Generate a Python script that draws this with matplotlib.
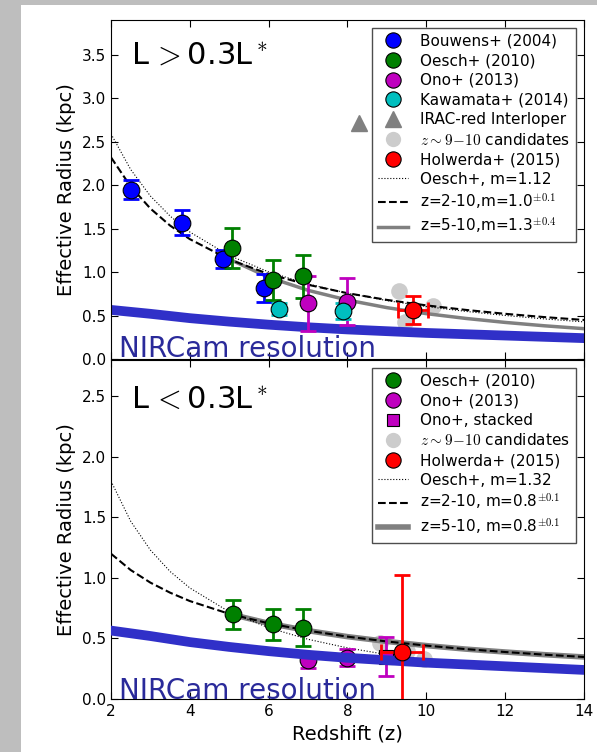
import numpy as np
import matplotlib.pyplot as plt
from matplotlib.lines import Line2D
from matplotlib.patches import Rectangle

plt.rcParams['mathtext.fontset'] = 'cm'
plt.rcParams['font.family'] = 'DejaVu Sans'
plt.rcParams['xtick.direction'] = 'in'
plt.rcParams['ytick.direction'] = 'in'
plt.rcParams['xtick.top'] = True
plt.rcParams['ytick.right'] = True
plt.rcParams['xtick.major.size'] = 5
plt.rcParams['ytick.major.size'] = 5

# ---- upper panel: L > 0.3 L* ----
bou_z = [2.5, 3.8, 4.85, 5.88]
bou_r = [1.95, 1.57, 1.15, 0.82]
bou_e = [0.11, 0.14, 0.10, 0.16]

oes_z = [5.06, 6.1, 6.88]
oes_r = [1.28, 0.91, 0.95]
oes_e = [0.23, 0.23, 0.25]

ono_z = [6.99, 7.98]
ono_r = [0.64, 0.66]
ono_e = [0.32, 0.27]

kaw_z = [6.27, 7.88]
kaw_r = [0.58, 0.55]
kaw_e = [0.07, 0.09]

irac_z = [8.3]
irac_r = [2.71]

cand_z = [9.3, 9.46, 10.18]
cand_r = [0.78, 0.43, 0.61]

hol_z = [9.66]
hol_r = [0.56]
hol_ze = [0.37]
hol_e = [0.16]

fit_z = [2, 2.5, 3, 3.5, 4, 5, 6, 7, 8, 9, 10, 11, 12, 13, 14]
oesch_fit = [2.59, 2.18, 1.875, 1.644, 1.461, 1.191, 1.002, 0.863, 0.757,
             0.672, 0.604, 0.548, 0.501, 0.461, 0.427]
fit_210 = [2.32, 1.984, 1.731, 1.535, 1.379, 1.145, 0.978, 0.854, 0.757,
           0.680, 0.617, 0.565, 0.520, 0.482, 0.449]
fit5_z = [5, 6, 7, 8, 9, 10, 11, 12, 13, 14]
fit_510 = [1.149, 0.940, 0.790, 0.678, 0.591, 0.522, 0.467, 0.421, 0.382, 0.349]

nirc_z = [2, 3, 4, 5, 6, 7, 8, 9, 10, 11, 12, 13, 14]
nirc_r = [0.565, 0.52, 0.47, 0.43, 0.395, 0.365, 0.34, 0.32, 0.30,
          0.285, 0.27, 0.255, 0.24]

# ---- lower panel: L < 0.3 L* ----
oes2_z = [5.09, 6.1, 6.88]
oes2_r = [0.70, 0.617, 0.59]
oes2_e = [0.12, 0.13, 0.15]

ono2_z = [6.99, 7.98]
ono2_r = [0.32, 0.34]
ono2_e = [0.06, 0.07]

stack_z = [8.98]
stack_r = [0.35]
stack_e = [0.16]

cand2_z = [8.83, 9.93, 9.5]
cand2_r = [0.46, 0.33, 0.40]

hol2_z = [9.39]
hol2_r = [0.39]
hol2_ze = [0.53]
hol2_e = [0.63]

oesch2_fit = [1.80, 1.468, 1.230, 1.053, 0.917, 0.720, 0.588, 0.493, 0.422,
              0.367, 0.324, 0.289, 0.260, 0.235, 0.215]
fit2_210 = [1.20, 1.065, 0.961, 0.878, 0.809, 0.703, 0.625, 0.564, 0.515,
            0.475, 0.441, 0.412, 0.388, 0.366, 0.347]
fit2_510 = [0.703, 0.625, 0.564, 0.515, 0.475, 0.441, 0.412, 0.388, 0.366, 0.347]

fig = plt.figure(figsize=(5.97, 7.52), dpi=100, facecolor='#bebebe')
fig.patches.append(Rectangle((21 / 597, 0), 1, 1 - 5 / 752, transform=fig.transFigure,
                             facecolor='white', edgecolor='none', zorder=-10))

ax1 = fig.add_axes([0.1859, 0.5226, 0.7923, 0.4508])
ax2 = fig.add_axes([0.1859, 0.0705, 0.7923, 0.4508], sharex=ax1)

ms = 12
ekw = dict(fmt='none', elinewidth=2, capsize=6, capthick=2)
mkw = dict(ls='none', marker='o', ms=ms, mec='k', mew=0.8)
lkw = dict(ls='none', marker='o', ms=11, mec='k', mew=0.8)
nircol = '#3030c8'

# upper panel
ax1.plot(nirc_z, nirc_r, '-', color=nircol, lw=7, zorder=2)
ax1.plot(fit5_z, fit_510, '-', color='0.5', lw=2.5, zorder=3)
ax1.plot(fit_z, fit_210, '--', color='k', lw=1.5, zorder=3)
ax1.plot(fit_z, oesch_fit, ':', color='k', lw=0.8, zorder=3)
ax1.plot(cand_z, cand_r, ls='none', marker='o', ms=ms, color='#cccccc', mec='none', zorder=1)
ax1.plot(irac_z, irac_r, ls='none', marker='^', ms=ms, color='0.5', mec='0.5', zorder=4)
for z, r, e, c in [(bou_z, bou_r, bou_e, 'b'), (oes_z, oes_r, oes_e, 'g'),
                   (ono_z, ono_r, ono_e, 'm'), (kaw_z, kaw_r, kaw_e, 'c')]:
    ax1.errorbar(z, r, yerr=e, ecolor=c, zorder=4, **ekw)
    ax1.plot(z, r, color=c, zorder=5, **mkw)
ax1.errorbar(hol_z, hol_r, xerr=hol_ze, yerr=hol_e, ecolor='r', zorder=4, **ekw)
ax1.plot(hol_z, hol_r, color='r', zorder=5, **mkw)

ax1.text(2.5, 3.39, r'L$\,>$0.3L$^*$', fontsize=22)
ax1.text(2.2, 0.02, 'NIRCam resolution', fontsize=20, color='#2a2a9a', zorder=6)
ax1.set_ylim(0, 3.9)
ax1.set_yticks([0.0, 0.5, 1.0, 1.5, 2.0, 2.5, 3.0, 3.5])
ax1.set_ylabel('Effective Radius (kpc)', fontsize=14)
ax1.tick_params(labelbottom=False, labelsize=11)

h1 = [Line2D([], [], color='b', **lkw), Line2D([], [], color='g', **lkw),
      Line2D([], [], color='m', **lkw), Line2D([], [], color='c', **lkw),
      Line2D([], [], ls='none', marker='^', ms=11, color='0.5', mec='0.5'),
      Line2D([], [], ls='none', marker='o', ms=11, color='#cccccc', mec='none'),
      Line2D([], [], color='r', **lkw),
      Line2D([], [], ls=':', color='k', lw=0.8),
      Line2D([], [], ls='--', color='k', lw=1.5),
      Line2D([], [], ls='-', color='0.5', lw=2.5)]
l1 = ['Bouwens+ (2004)', 'Oesch+ (2010)', 'Ono+ (2013)', 'Kawamata+ (2014)',
      'IRAC-red Interloper', r'$z\sim9\!-\!10$ candidates', 'Holwerda+ (2015)',
      'Oesch+, m=1.12', r'z=2-10,m=1.0$^{\pm0.1}$', r'z=5-10,m=1.3$^{\pm0.4}$']
leg = ax1.legend(h1, l1, loc='upper right', fontsize=11, numpoints=1,
                 labelspacing=0.3, fancybox=False, framealpha=1,
                 edgecolor='0.3', borderaxespad=0.5, handletextpad=0.8)
leg.get_frame().set_linewidth(1)

# lower panel
ax2.plot(cand2_z, cand2_r, ls='none', marker='o', ms=ms, color='#cccccc', mec='none', zorder=1)
ax2.plot(fit5_z, fit2_510, '-', color='0.5', lw=4, zorder=2)
ax2.plot(fit_z, fit2_210, '--', color='k', lw=1.5, zorder=3)
ax2.plot(fit_z, oesch2_fit, ':', color='k', lw=0.8, zorder=3)
ax2.errorbar(oes2_z, oes2_r, yerr=oes2_e, ecolor='g', zorder=4, **ekw)
ax2.plot(oes2_z, oes2_r, color='g', zorder=5, **mkw)
ax2.errorbar(ono2_z, ono2_r, yerr=ono2_e, ecolor='m', zorder=4, **ekw)
ax2.plot(ono2_z, ono2_r, color='m', zorder=5, **mkw)
ax2.errorbar(stack_z, stack_r, yerr=stack_e, ecolor='m', zorder=4, **ekw)
ax2.plot(stack_z, stack_r, ls='none', marker='s', ms=10, color='m', mec='k', mew=0.8, zorder=5)
ax2.plot(nirc_z, nirc_r, '-', color=nircol, lw=7, zorder=6)
ax2.errorbar(hol2_z, hol2_r, xerr=hol2_ze, yerr=hol2_e, ecolor='r', zorder=7, **ekw)
ax2.plot(hol2_z, hol2_r, color='r', zorder=8, **mkw)

ax2.text(2.5, 2.40, r'L$\,<$0.3L$^*$', fontsize=22)
ax2.text(2.2, 0.0, 'NIRCam resolution', fontsize=20, color='#2a2a9a', zorder=9)
ax2.set_ylim(0, 2.8)
ax2.set_xlim(2, 14)
ax2.set_yticks([0.0, 0.5, 1.0, 1.5, 2.0, 2.5])
ax2.set_xticks([2, 4, 6, 8, 10, 12, 14])
ax2.set_ylabel('Effective Radius (kpc)', fontsize=14)
ax2.set_xlabel('Redshift (z)', fontsize=14)
ax2.tick_params(labelsize=11)

h2 = [Line2D([], [], color='g', **lkw), Line2D([], [], color='m', **lkw),
      Line2D([], [], ls='none', marker='s', ms=9, color='m', mec='k', mew=0.8),
      Line2D([], [], ls='none', marker='o', ms=11, color='#cccccc', mec='none'),
      Line2D([], [], color='r', **lkw),
      Line2D([], [], ls=':', color='k', lw=0.8),
      Line2D([], [], ls='--', color='k', lw=1.5),
      Line2D([], [], ls='-', color='0.5', lw=4)]
l2 = ['Oesch+ (2010)', 'Ono+ (2013)', 'Ono+, stacked', r'$z\sim9\!-\!10$ candidates',
      'Holwerda+ (2015)', 'Oesch+, m=1.32', r'z=2-10, m=0.8$^{\pm0.1}$',
      r'z=5-10, m=0.8$^{\pm0.1}$']
leg2 = ax2.legend(h2, l2, loc='upper right', fontsize=11, numpoints=1,
                  labelspacing=0.3, fancybox=False, framealpha=1,
                  edgecolor='0.3', borderaxespad=0.5, handletextpad=0.8)
leg2.get_frame().set_linewidth(1)

fig.savefig('out.png', dpi=100, facecolor=fig.get_facecolor())
